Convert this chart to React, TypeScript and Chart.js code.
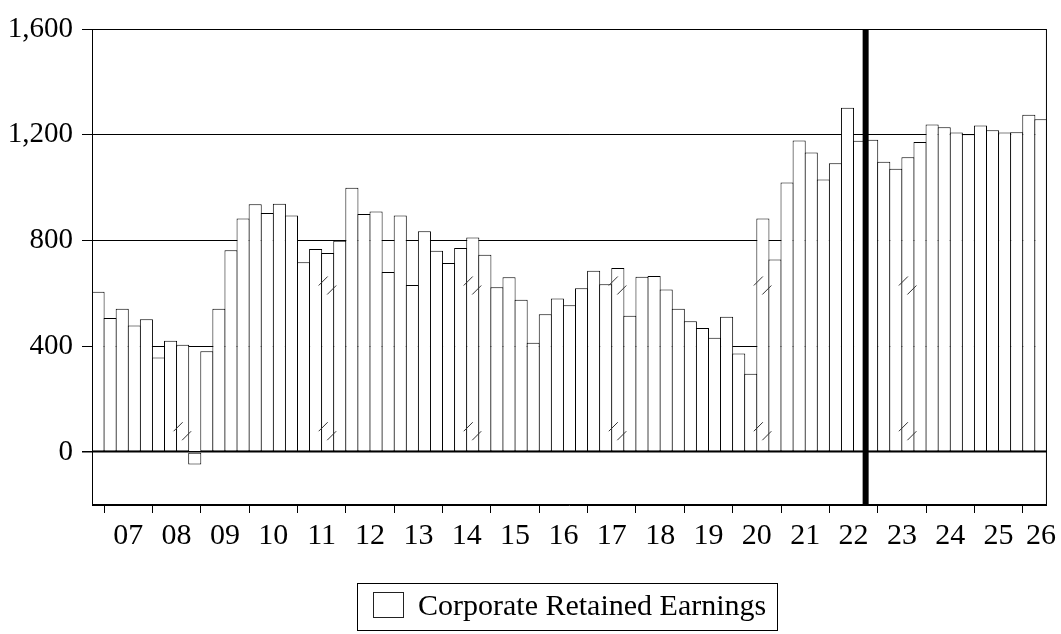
import React, { useEffect, useRef } from "react";
import { Chart, registerables } from "chart.js";

Chart.register(...registerables);

// ---- data ----
const firstYear = 2006;
const lastYear = 2026;
const quarterNames = ["Q1", "Q2", "Q3", "Q4"];
const firstQuarter = "2006Q4";
const lastQuarter = "2026Q2";

const quarterLabels: string[] = (() => {
  const out: string[] = [];
  for (let y = firstYear; y <= lastYear; y++) for (const q of quarterNames) out.push(`${y}${q}`);
  return out.slice(out.indexOf(firstQuarter), out.indexOf(lastQuarter) + 1);
})();

// Corporate retained earnings, 2006Q4 .. 2026Q2
const retainedEarnings: number[] = [
  606,
  507, 542, 479, 502,
  358, 421, 406, -47,
  381, 542, 763, 883,
  937, 904, 939, 895,
  718, 768, 753, 799,
  1000, 900, 910, 681,
  895, 632, 835, 761,
  715, 772, 812, 746,
  623, 661, 576, 414,
  521, 581, 555, 620,
  686, 635, 696, 516,
  663, 666, 615, 542,
  495, 469, 432, 512,
  373, 296, 883, 728,
  1020, 1178, 1133, 1031,
  1092, 1302, 1177, 1181,
  1098, 1072, 1115, 1173,
  1239, 1228, 1209, 1202,
  1235, 1217, 1209, 1210,
  1276, 1259,
];

const yearTickLabels = ["07", "08", "09", "10", "11", "12", "13", "14", "15", "16", "17", "18", "19", "20", "21", "22", "23", "24", "25", "26"];
const yTickValues = [0, 400, 800, 1200, 1600];
const yMin = -200;
const yMax = 1600;
const forecastStart = "2022Q4";
const breakQuarters = ["2008Q3", "2011Q3", "2014Q3", "2017Q3", "2020Q3", "2023Q3"];
const breakLevels = [96, 647];
const seriesName = "Corporate Retained Earnings";

const FONT = "'Liberation Serif', 'Times New Roman', serif";

const yearCenters = yearTickLabels.map((yy) => {
  const i = quarterLabels.indexOf(`20${yy}Q2`);
  return Math.min(i + 0.5, quarterLabels.length - 1);
});

const decorPlugin = {
  id: "decor",
  afterDatasetsDraw(chart: any) {
    const { ctx, chartArea: a, scales } = chart;
    const x = scales.x;
    const y = scales.y;
    const step = x.getPixelForValue(1) - x.getPixelForValue(0);
    ctx.save();
    // break marks
    ctx.strokeStyle = "#333";
    ctx.lineWidth = 1;
    breakQuarters.forEach((q) => {
      const i = quarterLabels.indexOf(q);
      const bx = x.getPixelForValue(i) - step / 2;
      const tallest = Math.max(retainedEarnings[i - 1], retainedEarnings[i]);
      breakLevels.forEach((lv) => {
        if (lv >= tallest) return;
        const cy = y.getPixelForValue(lv);
        [[1.5, 0], [10, 9]].forEach(([dx, dy]) => {
          ctx.beginPath();
          ctx.moveTo(bx + dx - 4.5, cy + dy + 4.5);
          ctx.lineTo(bx + dx + 4.5, cy + dy - 4.5);
          ctx.stroke();
        });
      });
    });
    // forecast divider
    const fi = quarterLabels.indexOf(forecastStart);
    const fx = x.getPixelForValue(fi) - step / 2;
    ctx.fillStyle = "#000";
    ctx.fillRect(fx - 3, a.top, 6, a.bottom - a.top);
    // frame
    ctx.strokeStyle = "#000";
    ctx.lineWidth = 1;
    ctx.strokeRect(a.left + 0.5, a.top + 0.5, a.right - a.left - 1, a.bottom - a.top - 1);
    ctx.restore();
  },
};

export default function App() {
  const ref = useRef<HTMLCanvasElement | null>(null);

  useEffect(() => {
    if (!ref.current) return;
    Chart.defaults.font.family = FONT;
    const chart = new Chart(ref.current, {
      type: "bar",
      data: {
        labels: quarterLabels,
        datasets: [
          {
            label: seriesName,
            data: retainedEarnings,
            backgroundColor: "#ffffff",
            borderColor: "#000000",
            borderWidth: 1,
            borderSkipped: false,
            barPercentage: 1.083,
            categoryPercentage: 1,
          },
        ],
      },
      options: {
        animation: false,
        responsive: false,
        maintainAspectRatio: false,
        devicePixelRatio: 1,
        layout: { padding: { top: 29, right: 14, left: 0, bottom: 76 } },
        plugins: { legend: { display: false }, tooltip: { enabled: false } },
        scales: {
          x: {
            type: "category",
            position: "bottom",
            offset: true,
            weight: 0,
            grid: {
              display: true,
              offset: true,
              drawOnChartArea: false,
              drawTicks: true,
              tickLength: 8,
              lineWidth: 1,
              color: (c: any) => {
                const l = quarterLabels[c.index];
                return l && l.endsWith("Q1") ? "#000" : "rgba(0,0,0,0)";
              },
            },
            border: { display: true, color: "#000", width: 1 },
            ticks: { display: false, autoSkip: false },
          },
          x2: {
            type: "linear",
            position: "bottom",
            weight: 1,
            offset: false,
            bounds: "data",
            min: -0.5,
            max: quarterLabels.length - 0.5,
            grid: { display: false, drawTicks: false, offset: false },
            border: { display: false },
            afterBuildTicks: (s: any) => {
              s.ticks = yearCenters.map((v) => ({ value: v }));
            },
            afterFit: (s: any) => {
              s.height = 45;
            },
            ticks: {
              autoSkip: false,
              maxRotation: 0,
              padding: 5,
              color: "#000",
              font: { family: FONT, size: 30 },
              callback: (_v: any, i: number) => yearTickLabels[i],
            },
          },
          y: {
            type: "linear",
            min: yMin,
            max: yMax,
            afterBuildTicks: (s: any) => {
              s.ticks = yTickValues.map((v) => ({ value: v }));
            },
            afterFit: (s: any) => {
              s.width = 92;
            },
            grid: {
              drawTicks: true,
              tickLength: 10,
              tickColor: "#000",
              color: (c: any) => {
                const v = c.tick ? c.tick.value : null;
                if (v === yMax) return "rgba(0,0,0,0)";
                return "#000";
              },
              lineWidth: (c: any) => (c.tick && c.tick.value === 0 ? 1.5 : 1),
            },
            border: { display: true, color: "#000", width: 1 },
            ticks: {
              padding: 9,
              color: "#000",
              font: { family: FONT, size: 29 },
              callback: (v: any) => Number(v).toLocaleString("en-US"),
            },
          },
        },
      },
      plugins: [decorPlugin],
    });
    return () => chart.destroy();
  }, []);

  return (
    <div style={{ position: "absolute", left: 0, top: 0, width: 1061, height: 634, background: "#fff" }}>
      <canvas ref={ref} width={1061} height={634} style={{ display: "block", width: 1061, height: 634 }} />
      <div
        style={{
          position: "absolute",
          left: 357,
          top: 583,
          width: 421,
          height: 48,
          boxSizing: "border-box",
          border: "1px solid #000",
          fontFamily: FONT,
          fontSize: 30,
          color: "#000",
        }}
      >
        <div
          style={{
            position: "absolute",
            left: 15,
            top: 8,
            width: 31,
            height: 26,
            boxSizing: "border-box",
            border: "1px solid #222",
            background: "#fff",
          }}
        />
        <div style={{ position: "absolute", left: 60, top: 4, lineHeight: "34px", whiteSpace: "nowrap" }}>{seriesName}</div>
      </div>
    </div>
  );
}
